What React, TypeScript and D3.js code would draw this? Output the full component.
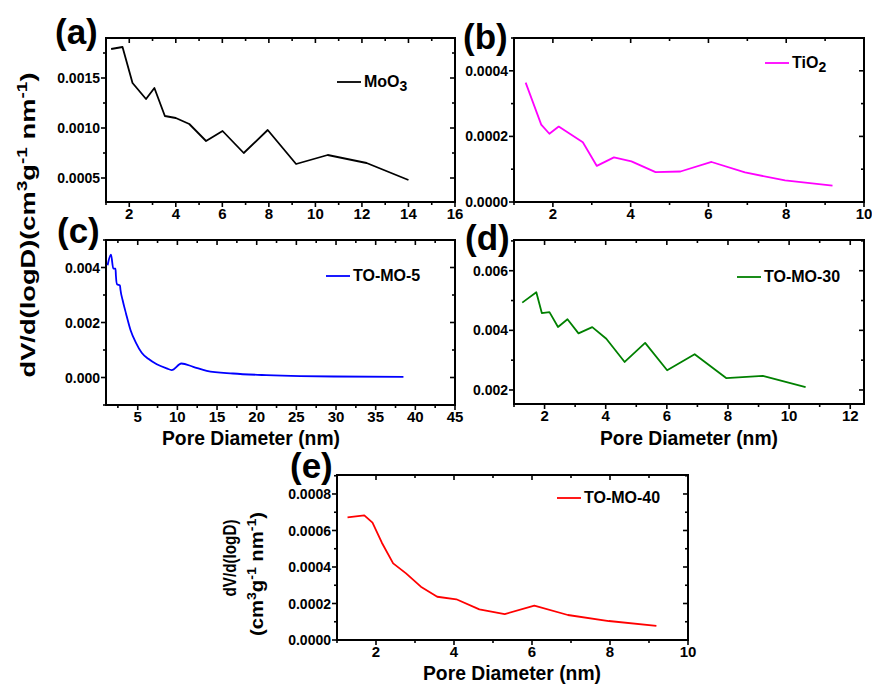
import * as d3 from "d3";
import { useEffect, useRef } from "react";

// pore size (nm) and dV/d(logD) values
const moo3Size = [1.22, 1.71, 2.14, 2.72, 3.08, 3.53, 4.0, 4.58, 5.3, 6.01, 6.92, 7.95, 9.17, 10.53, 12.2, 14.0];
const moo3Value = [0.00179, 0.00181, 0.00145, 0.00129, 0.0014, 0.00112, 0.0011, 0.00104, 0.00087, 0.00097, 0.00075, 0.00098, 0.00064, 0.00073, 0.00065, 0.00048];

const tio2Size = [1.3, 1.7, 1.91, 2.15, 2.77, 3.13, 3.57, 4.02, 4.64, 5.28, 6.08, 6.94, 7.97, 9.19];
const tio2Value = [0.000364, 0.000236, 0.000208, 0.00023, 0.000182, 0.00011, 0.000136, 0.000124, 0.000091, 0.000093, 0.000122, 0.00009, 0.000066, 0.00005];

const tomo5Size = [1.2, 1.63, 1.92, 2.2, 2.25, 2.39, 2.76, 2.82, 3.1, 3.52, 4.1, 4.78, 5.5, 6.34, 7.4, 8.65, 9.28, 10.5, 12.0, 13.7, 17, 21.2, 25.5, 29.7, 38.5];
const tomo5Value = [0.00408, 0.00447, 0.00396, 0.00396, 0.0037, 0.00339, 0.00335, 0.0032, 0.00281, 0.00233, 0.00172, 0.00126, 0.0009, 0.00068, 0.00048, 0.00033, 0.00027, 0.00051, 0.00039, 0.00024, 0.000145, 0.000085, 0.00005, 0.000036, 0.000024];

const tomo30Size = [1.27, 1.73, 1.91, 2.16, 2.44, 2.75, 3.11, 3.56, 4.02, 4.62, 5.29, 6.01, 6.91, 7.94, 9.14, 10.54];
const tomo30Value = [0.00493, 0.00528, 0.00458, 0.00461, 0.00411, 0.00437, 0.0039, 0.00411, 0.00372, 0.00294, 0.00358, 0.00266, 0.0032, 0.0024, 0.00247, 0.0021];

const tomo40Size = [1.27, 1.7, 1.91, 2.15, 2.44, 2.77, 3.15, 3.57, 4.06, 4.65, 5.3, 6.06, 6.92, 7.97, 9.19];
const tomo40Value = [0.000672, 0.000683, 0.000643, 0.000533, 0.00042, 0.000365, 0.000292, 0.000237, 0.000223, 0.000168, 0.000142, 0.000188, 0.000137, 0.000104, 0.000077];

const FONT = "'Liberation Sans', Arial, Helvetica, sans-serif";

const panels = [
	{ tag: "(a)", xs: moo3Size, ys: moo3Value, color: "#000000", name: "MoO", sub: "3",
		box: [106, 38, 455, 202], xDomain: [1, 16], xMajor: 2, xMinor: 1,
		yDomain: [0.00026, 0.0019], yMajor: 0.0005, yMinor: 0.00025, yFmt: ".4f",
		leg: [337, 82], tagPos: [55, 44] },
	{ tag: "(b)", xs: tio2Size, ys: tio2Value, color: "#ff00ff", name: "TiO", sub: "2",
		box: [514, 38, 864, 202], xDomain: [1, 10], xMajor: 2, xMinor: 1,
		yDomain: [0, 0.0005], yMajor: 0.0002, yMinor: 0.0001, yFmt: ".4f",
		leg: [765, 63], tagPos: [463, 49] },
	{ tag: "(c)", xs: tomo5Size, ys: tomo5Value, color: "#0000ff", name: "TO-MO-5", sub: "",
		box: [106, 240, 455, 405], xDomain: [1, 45], xMajor: 5, xMinor: 2.5,
		yDomain: [-0.001, 0.005], yMajor: 0.002, yMinor: 0.001, yFmt: ".3f",
		leg: [326, 276], tagPos: [57, 243], curve: true },
	{ tag: "(d)", xs: tomo30Size, ys: tomo30Value, color: "#008000", name: "TO-MO-30", sub: "",
		box: [514, 240, 864, 404], xDomain: [1, 12.45], xMajor: 2, xMinor: 1,
		yDomain: [0.00153, 0.00703], yMajor: 0.002, yMinor: 0.001, yFmt: ".3f",
		leg: [737, 277], tagPos: [465, 250] },
	{ tag: "(e)", xs: tomo40Size, ys: tomo40Value, color: "#ff0000", name: "TO-MO-40", sub: "",
		box: [337, 475, 688, 640], xDomain: [1, 10], xMajor: 2, xMinor: 1,
		yDomain: [0, 0.000904], yMajor: 0.0002, yMinor: 0.0001, yFmt: ".4f",
		leg: [557, 498], tagPos: [290, 478] }
];

const steps = (lo, hi, step) => {
	const out = [];
	for (let i = Math.ceil(lo / step - 1e-6); i * step <= hi + step * 1e-6; i++) {
		out.push(+(i * step).toFixed(8));
	}
	return out;
};

// text with superscripts, parts = [text, isSup]
const richText = (sel, parts, size) => {
	parts.forEach(([t, sup], i) => {
		const ts = sel.append("tspan").text(t);
		if (sup) ts.attr("font-size", size * 0.7).attr("dy", -size * 0.38);
		else if (i > 0 && parts[i - 1][1]) ts.attr("dy", size * 0.38);
	});
};

const unitParts = [["(cm", false], ["3", true], ["g", false], ["-1", true], [" nm", false], ["-1", true], [")", false]];

const createGraph = node => {
	const svg = d3.select(node);
	svg.selectAll("*").remove();

	panels.forEach((p, idx) => {
		const [l, t, r, b] = p.box;
		const x = d3.scaleLinear().domain(p.xDomain).range([l, r]);
		const y = d3.scaleLinear().domain(p.yDomain).range([b, t]);
		const g = svg.append("g");

		g.append("clipPath").attr("id", "clip" + idx)
			.append("rect").attr("x", l).attr("y", t).attr("width", r - l).attr("height", b - t);

		const xMaj = steps(p.xDomain[0], p.xDomain[1], p.xMajor);
		const xMin = steps(p.xDomain[0], p.xDomain[1], p.xMinor).filter(v => !xMaj.includes(v));
		const yMaj = steps(p.yDomain[0], p.yDomain[1], p.yMajor);
		const yMin = steps(p.yDomain[0], p.yDomain[1], p.yMinor).filter(v => !yMaj.some(m => Math.abs(m - v) < 1e-9));

		const ticks = g.append("g").attr("stroke", "#000").attr("stroke-width", 1.6);
		const tick = (x1, y1, x2, y2) => ticks.append("line").attr("x1", x1).attr("y1", y1).attr("x2", x2).attr("y2", y2);
		xMaj.forEach(v => { tick(x(v), b, x(v), b + 5); tick(x(v), t, x(v), t + 5); });
		xMin.forEach(v => { tick(x(v), b, x(v), b + 3); tick(x(v), t, x(v), t + 3); });
		yMaj.forEach(v => { tick(l - 5, y(v), l, y(v)); tick(r - 5, y(v), r, y(v)); });
		yMin.forEach(v => { tick(l - 3, y(v), l, y(v)); tick(r - 3, y(v), r, y(v)); });

		g.append("rect").attr("x", l).attr("y", t).attr("width", r - l).attr("height", b - t)
			.attr("fill", "none").attr("stroke", "#000").attr("stroke-width", 2);

		g.selectAll(".xl").data(xMaj).enter().append("text")
			.attr("x", d => x(d)).attr("y", b + 17)
			.attr("text-anchor", "middle").attr("font-size", 15)
			.text(d => d3.format("d")(d));

		g.selectAll(".yl").data(yMaj).enter().append("text")
			.attr("x", l - 6).attr("y", d => y(d)).attr("dy", "0.36em")
			.attr("text-anchor", "end").attr("font-size", 14)
			.text(d => d3.format(p.yFmt)(d));

		const line = d3.line().x(d => x(d[0])).y(d => y(d[1]));
		if (p.curve) line.curve(d3.curveMonotoneX);
		g.append("path")
			.datum(p.xs.map((v, i) => [v, p.ys[i]]))
			.attr("clip-path", `url(#clip${idx})`)
			.attr("fill", "none").attr("stroke", p.color).attr("stroke-width", 1.8)
			.attr("stroke-linejoin", "round")
			.attr("d", line);

		// legend
		const [lx, ly] = p.leg;
		g.append("line").attr("x1", lx).attr("x2", lx + 24).attr("y1", ly).attr("y2", ly)
			.attr("stroke", p.color).attr("stroke-width", 1.8);
		const lt = g.append("text").attr("x", lx + 27).attr("y", ly + 5).attr("font-size", 16);
		lt.append("tspan").text(p.name);
		if (p.sub) lt.append("tspan").attr("dy", 4).attr("font-size", 14).text(p.sub);

		g.append("text").attr("x", p.tagPos[0]).attr("y", p.tagPos[1])
			.attr("font-size", 35).text(p.tag);
	});

	// x titles
	[[251, 445], [689, 445], [512, 680]].forEach(([cx, by]) => {
		svg.append("text").attr("x", cx).attr("y", by).attr("text-anchor", "middle")
			.attr("font-size", 20).attr("textLength", 178).attr("lengthAdjust", "spacingAndGlyphs")
			.text("Pore Diameter (nm)");
	});

	// shared y title for (a)-(d)
	const yt = svg.append("text").attr("transform", "translate(35,225) rotate(-90)")
		.attr("text-anchor", "middle").attr("font-size", 21)
		.attr("textLength", 305).attr("lengthAdjust", "spacingAndGlyphs");
	richText(yt, [["dV/d(logD)", false], ...unitParts], 21);

	// two-line y title for (e)
	svg.append("text").attr("transform", "translate(236,558) rotate(-90)")
		.attr("text-anchor", "middle").attr("font-size", 18)
		.attr("textLength", 77).attr("lengthAdjust", "spacingAndGlyphs")
		.text("dV/d(logD)");
	const yt2 = svg.append("text").attr("transform", "translate(263,574) rotate(-90)")
		.attr("text-anchor", "middle").attr("font-size", 18)
		.attr("textLength", 124).attr("lengthAdjust", "spacingAndGlyphs");
	richText(yt2, unitParts, 18);
};

export default function App() {
	const ref = useRef(null);

	useEffect(() => {
		createGraph(ref.current);
	}, []);

	return (
		<svg
			ref={ref}
			width={872}
			height={686}
			style={{ position: "absolute", left: 0, top: 0, background: "#fff", fontFamily: FONT, fontWeight: "bold" }}
		/>
	);
}
